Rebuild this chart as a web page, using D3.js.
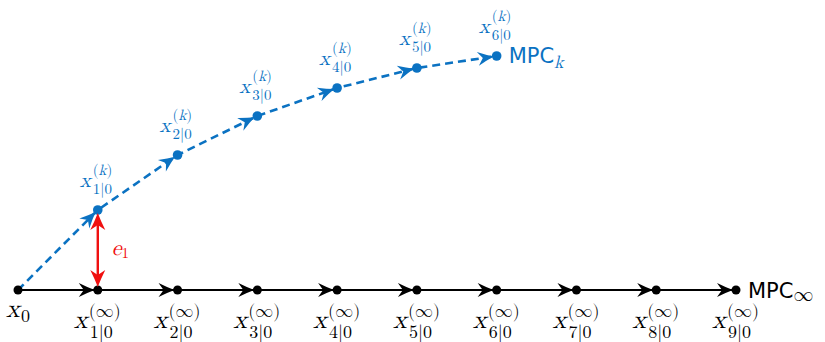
<!DOCTYPE html>
<html>
<head>
<meta charset="utf-8">
<script src="https://cdn.jsdelivr.net/npm/d3@7"></script>
<style>
  html, body { margin: 0; padding: 0; background: #fff; }
  svg { display: block; }
  .math { font-family: "Latin Modern Math", "DejaVu Serif", serif; }
  .sans { font-family: "DejaVu Sans", sans-serif; }
</style>
</head>
<body>
<svg id="chart" width="825" height="342"></svg>
<script>
// ---- data ----
const steps = [0, 1, 2, 3, 4, 5, 6, 7, 8, 9];            // prediction step index
const infValues = [0, 0, 0, 0, 0, 0, 0, 0, 0, 0];        // MPC_inf trajectory
const kSteps = [0, 1, 2, 3, 4, 5, 6];
const kValues = [0, 0.80, 1.35, 1.74, 2.02, 2.22, 2.34]; // MPC_k trajectory
const infLabels = ["1|0", "2|0", "3|0", "4|0", "5|0", "6|0", "7|0", "8|0", "9|0"];
const kLabels = ["1|0", "2|0", "3|0", "4|0", "5|0", "6|0"];
const errorStep = 1;

const BLUE = "#0b72c2";
const RED = "#f01010";

const svg = d3.select("#chart");
const x = d3.scaleLinear().domain([0, 9]).range([18, 736]);
const y = d3.scaleLinear().domain([0, 2.34]).range([290, 56]);

const infPts = steps.map((s, i) => [x(s), y(infValues[i])]);
const kPts = kSteps.map((s, i) => [x(s), y(kValues[i])]);

const line = d3.line();
const arrowPath = "M-3,0 Q-10,-2.5 -19,-7 L-14,0 L-19,7 Q-10,2.5 -3,0 Z";

function arrows(g, pts, color) {
  for (let i = 1; i < pts.length; i++) {
    const [x0, y0] = pts[i - 1], [x1, y1] = pts[i];
    const a = Math.atan2(y1 - y0, x1 - x0) * 180 / Math.PI;
    g.append("path").attr("d", arrowPath).attr("fill", color)
      .attr("transform", `translate(${x1},${y1}) rotate(${a})`);
  }
}

// blue dashed trajectory
svg.append("path").attr("d", line(kPts)).attr("fill", "none")
  .attr("stroke", BLUE).attr("stroke-width", 2.6).attr("stroke-dasharray", "8,5");
// black trajectory
svg.append("path").attr("d", line(infPts)).attr("fill", "none")
  .attr("stroke", "#000").attr("stroke-width", 2);

arrows(svg.append("g"), infPts, "#000");
arrows(svg.append("g"), kPts, BLUE);

svg.append("g").selectAll("circle").data(infPts).join("circle")
  .attr("cx", d => d[0]).attr("cy", d => d[1]).attr("r", 4.5).attr("fill", "#000");
svg.append("g").selectAll("circle").data(kPts.slice(1)).join("circle")
  .attr("cx", d => d[0]).attr("cy", d => d[1]).attr("r", 4.8).attr("fill", BLUE);

// red double arrow e1
{
  const ex = x(steps[errorStep]);
  const yTop = y(kValues[errorStep]), yBot = y(infValues[errorStep]);
  const g = svg.append("g");
  g.append("line").attr("x1", ex).attr("x2", ex).attr("y1", yTop + 8).attr("y2", yBot - 8)
    .attr("stroke", RED).attr("stroke-width", 2.4);
  const redHead = "M-3,0 Q-11,-3 -20,-7.5 L-15,0 L-20,7.5 Q-11,3 -3,0 Z";
  g.append("path").attr("d", redHead).attr("fill", RED)
    .attr("transform", `translate(${ex},${yTop}) rotate(-90)`);
  g.append("path").attr("d", redHead).attr("fill", RED)
    .attr("transform", `translate(${ex},${yBot}) rotate(90)`);
  const t = g.append("text").attr("class", "math").attr("x", ex + 14).attr("y", (yTop + yBot) / 2 + 5)
    .attr("fill", RED);
  t.append("tspan").attr("font-style", "italic").attr("font-size", 22).text("e");
  t.append("tspan").attr("font-size", 15).attr("dy", 3).text("1");
}

// math label helper
function mathLabel(px, py, o) {
  const g = svg.append("g").attr("class", "math").attr("transform", `translate(${px},${py})`)
    .attr("fill", o.color);
  g.append("text").attr("x", o.xx).attr("y", o.xy).attr("font-style", "italic")
    .attr("font-size", o.fs).text("x");
  if (o.sup) {
    const s = g.append("text").attr("x", o.sx).attr("y", o.supy).attr("font-size", o.sfs);
    s.append("tspan").text("(");
    s.append("tspan").attr("font-style", o.supItalic ? "italic" : "normal").text(o.sup);
    s.append("tspan").text(")");
  }
  g.append("text").attr("x", o.sx + (o.subdx || 0)).attr("y", o.suby).attr("font-size", o.sfs).text(o.sub);
}

// x0
mathLabel(infPts[0][0], infPts[0][1], {color: "#000", xx: -12, xy: 27, fs: 26, sx: 3, suby: 32, sfs: 18, sub: "0"});

// x_{i|0}^{(inf)}
infLabels.forEach((lab, i) => {
  const p = infPts[i + 1];
  mathLabel(p[0], p[1], {color: "#000", xx: -24, xy: 38, fs: 26, sx: -9, supy: 27, sfs: 18,
    sup: "\u221E", sub: lab, subdx: 1, suby: 48});
});

// x_{i|0}^{(k)}
kLabels.forEach((lab, i) => {
  const p = kPts[i + 1];
  mathLabel(p[0], p[1], {color: BLUE, xx: -18, xy: -23, fs: 21, sx: -5, supy: -35, sfs: 15,
    sup: "k", supItalic: true, sub: lab, subdx: 0, suby: -16});
});

// MPC labels
{
  const pk = kPts[kPts.length - 1];
  const t = svg.append("text").attr("class", "sans").attr("x", pk[0] + 12).attr("y", pk[1] + 7)
    .attr("fill", BLUE).attr("font-size", 21);
  t.append("tspan").text("MPC");
  t.append("tspan").attr("class", "math").attr("font-style", "italic")
    .attr("font-size", 18).attr("dy", 5).text("k");

  const pi = infPts[infPts.length - 1];
  const t2 = svg.append("text").attr("class", "sans").attr("x", pi[0] + 12).attr("y", pi[1] + 8)
    .attr("fill", "#000").attr("font-size", 21);
  t2.append("tspan").text("MPC");
  t2.append("tspan").attr("class", "math").attr("font-size", 20).attr("dy", 3).text("\u221E");
}
</script>
</body>
</html>
